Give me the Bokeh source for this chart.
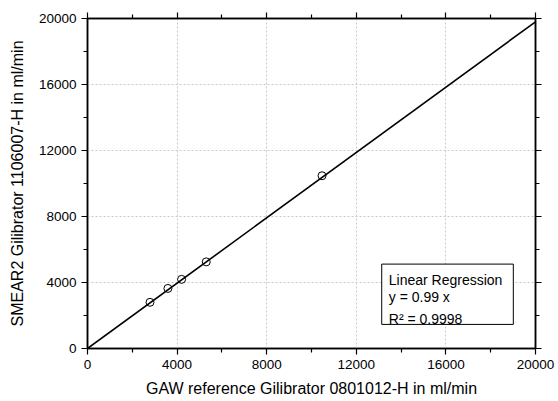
from bokeh.plotting import figure
from bokeh.models import (FixedTicker, LinearAxis, Range1d, ColumnDataSource,
                          BoxAnnotation, Label)
from bokeh.embed import file_html
from bokeh.resources import INLINE

# Measured flow rates (ml/min)
gaw_reference = [2790, 3590, 4200, 5300, 10470]
smear2_gilibrator = [2800, 3640, 4190, 5250, 10470]

# Linear regression through the origin
slope = 0.99
r_squared = 0.9998
fit_x = [0, 20000]

major_ticks = [0, 4000, 8000, 12000, 16000, 20000]
minor_ticks = [2000, 6000, 10000, 14000, 18000]

x_title = "GAW reference Gilibrator 0801012-H in ml/min"
y_title = "SMEAR2 Gilibrator 1106007-H in ml/min"

FONT = "Liberation Sans"

p = figure(width=558, height=401, output_backend="svg", toolbar_location=None,
           x_range=Range1d(0, 20000), y_range=Range1d(0, 20000),
           min_border_left=87, min_border_right=23, min_border_top=18,
           min_border_bottom=53, x_axis_location="below", y_axis_location="left")
p.outline_line_color = "black"
p.outline_line_width = 1.5
p.background_fill_color = "white"
p.border_fill_color = "white"

ticker = FixedTicker(ticks=major_ticks, minor_ticks=minor_ticks)


def style_axis(ax, show_labels=True):
    ax.ticker = ticker
    ax.axis_line_color = "black"
    ax.axis_line_width = 1.5
    ax.major_tick_line_color = "black"
    ax.major_tick_line_width = 1.2
    ax.minor_tick_line_color = "black"
    ax.minor_tick_line_width = 1.2
    ax.major_tick_in = 0
    ax.major_tick_out = 6
    ax.minor_tick_in = 0
    ax.minor_tick_out = 4
    ax.major_label_text_font = FONT
    ax.major_label_text_font_size = "13.5px"
    ax.major_label_text_color = "black"
    ax.axis_label_text_font = FONT
    ax.axis_label_text_font_size = "16px"
    ax.axis_label_text_font_style = "normal"
    ax.axis_label_text_color = "black"
    if not show_labels:
        ax.major_label_text_font_size = "0px"
        ax.major_label_text_alpha = 0


style_axis(p.xaxis[0])
style_axis(p.yaxis[0])
p.xaxis[0].axis_label = x_title
p.yaxis[0].axis_label = y_title
p.xaxis[0].major_label_standoff = 5
p.yaxis[0].major_label_standoff = 5
p.xaxis[0].axis_label_standoff = 8
p.yaxis[0].axis_label_standoff = 10

top_axis = LinearAxis()
right_axis = LinearAxis()
style_axis(top_axis, show_labels=False)
style_axis(right_axis, show_labels=False)
p.add_layout(top_axis, "above")
p.add_layout(right_axis, "right")

for g in (p.xgrid[0], p.ygrid[0]):
    g.ticker = ticker
    g.grid_line_color = "#c8c8c8"
    g.grid_line_dash = "2 2"
    g.grid_line_width = 1

# Fit line
p.line(x=fit_x, y=[slope * v for v in fit_x], line_color="black", line_width=1.6)

# Data points
src = ColumnDataSource(dict(x=gaw_reference, y=smear2_gilibrator))
p.scatter("x", "y", source=src, marker="circle", size=8, fill_color=None,
          line_color="black", line_width=1)

# Regression summary box
p.add_layout(BoxAnnotation(left=13135, right=19010, bottom=1460, top=5115,
                           fill_color="white", fill_alpha=1,
                           line_color="black", line_alpha=1, line_width=1))
lines = [("Linear Regression", 4150), (f"y = {slope} x", 3105),
         (f"R\u00b2 = {r_squared}", 1805)]
for txt, yy in lines:
    p.add_layout(Label(x=13450, y=yy, text=txt, text_font=FONT,
                       text_font_size="14px", text_color="black",
                       text_baseline="alphabetic", text_align="left"))

open("out.html", "w").write(file_html(p, INLINE))
